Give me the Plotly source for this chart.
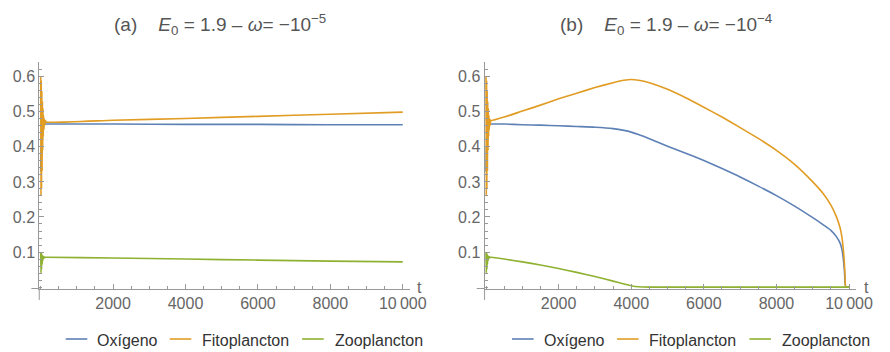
import plotly.graph_objects as go

# ---------------- data ----------------
# panel (a)
t_a = [0, 8, 16, 24, 32, 40, 48, 56, 64, 72, 80, 90, 100, 115, 130, 150,
       2000, 4000, 6000, 8000, 10000]
oxigeno_a = [0.33, 0.40, 0.34, 0.44, 0.38, 0.46, 0.42, 0.47, 0.45, 0.468, 0.46, 0.467, 0.464, 0.466, 0.465, 0.465,
             0.465, 0.464, 0.464, 0.463, 0.463]
fito_a = [0.60, 0.26, 0.59, 0.28, 0.56, 0.33, 0.53, 0.39, 0.51, 0.43, 0.49, 0.45, 0.48, 0.462, 0.475, 0.471,
          0.476, 0.481, 0.487, 0.493, 0.499]
zoo_a = [0.10, 0.04, 0.098, 0.05, 0.094, 0.065, 0.09, 0.075, 0.088, 0.08, 0.087, 0.083, 0.086, 0.084, 0.085, 0.085,
         0.083, 0.080, 0.077, 0.074, 0.072]

# panel (b)
t_b = [0, 8, 16, 24, 32, 40, 48, 56, 64, 72, 80, 90, 100, 115, 130, 150,
       500, 1000, 1500, 2000, 2500, 3000, 3500, 3800, 4000, 4200, 4500, 5000, 5500, 6000, 6500,
       7000, 7500, 8000, 8500, 9000, 9300, 9500, 9650, 9750, 9800, 9840, 9870, 9890, 9910, 10000]
oxigeno_b = [0.33, 0.40, 0.34, 0.44, 0.38, 0.46, 0.42, 0.47, 0.45, 0.468, 0.46, 0.467, 0.464, 0.466, 0.465, 0.465,
             0.465, 0.463, 0.462, 0.460, 0.458, 0.456, 0.452, 0.447, 0.442, 0.435, 0.423, 0.402, 0.382, 0.361, 0.338,
             0.314, 0.288, 0.261, 0.231, 0.198, 0.177, 0.162, 0.144, 0.126, 0.109, 0.082, 0.050, 0.015, 0.0, 0.0]
fito_b = [0.60, 0.26, 0.59, 0.28, 0.56, 0.33, 0.53, 0.39, 0.51, 0.43, 0.49, 0.45, 0.48, 0.462, 0.476, 0.475,
          0.485, 0.502, 0.519, 0.537, 0.553, 0.569, 0.583, 0.590, 0.592, 0.590, 0.583, 0.564, 0.540, 0.513, 0.485,
          0.455, 0.424, 0.390, 0.350, 0.300, 0.265, 0.234, 0.201, 0.170, 0.145, 0.110, 0.070, 0.030, 0.0, 0.0]
zoo_b = [0.10, 0.04, 0.098, 0.05, 0.094, 0.065, 0.09, 0.075, 0.088, 0.08, 0.087, 0.083, 0.086, 0.084, 0.085, 0.085,
         0.080, 0.072, 0.063, 0.053, 0.042, 0.030, 0.017, 0.009, 0.004, 0.001, 0.0, 0.0, 0.0, 0.0, 0.0,
         0.0, 0.0, 0.0, 0.0, 0.0, 0.0, 0.0, 0.0, 0.0, 0.0, 0.0, 0.0, 0.0, 0.0, 0.0]

series_names = ["Oxígeno", "Fitoplancton", "Zooplancton"]
colors = ["#5E81B5", "#E19C24", "#8FB131"]

x_tickvals = [2000, 4000, 6000, 8000, 10000]
x_ticktext = ["2000", "4000", "6000", "8000", "10\u2009000"]
y_tickvals = [0.1, 0.2, 0.3, 0.4, 0.5, 0.6]
y_ticktext = ["0.1", "0.2", "0.3", "0.4", "0.5", "0.6"]

titles = [
    "(a)\u00a0\u00a0\u00a0\u00a0<i>E</i><sub>0</sub> = 1.9 \u2013 <i>\u03c9</i>= \u221210<sup>\u22125</sup>",
    "(b)\u00a0\u00a0\u00a0\u00a0<i>E</i><sub>0</sub> = 1.9 \u2013 <i>\u03c9</i>= \u221210<sup>\u22124</sup>",
]

# ---------------- figure ----------------
W, H = 890, 352
FONT = "Liberation Sans, Arial, sans-serif"


def px(x):   # page x pixel -> paper fraction
    return x / W


def py(y):   # page y pixel (from top) -> paper fraction
    return (H - y) / H


fig = go.Figure()

panels = [
    (t_a, [oxigeno_a, fito_a, zoo_a], "x", "y"),
    (t_b, [oxigeno_b, fito_b, zoo_b], "x2", "y2"),
]
for t, ys, xa, ya in panels:
    for name, col, yv in zip(series_names, colors, ys):
        fig.add_trace(go.Scatter(
            x=t, y=yv, mode="lines", name=name, xaxis=xa, yaxis=ya, showlegend=False,
            line=dict(color=col, width=1.6, shape="spline", smoothing=0.5),
        ))

ydom = [py(288.5), py(62)]
xdom_px = [[40, 418], [494, 873]]
xrange = [-40, 10200]
yrange = [-0.004, 0.642]

axis_col = "#999999"
tick_font = dict(family=FONT, size=16, color="#666666")

for i, (xl, xr) in enumerate(xdom_px):
    sx = "" if i == 0 else "2"
    fig.update_layout(**{
        f"xaxis{sx}": dict(
            domain=[px(xl), px(xr)], range=xrange, anchor=f"y{sx}",
            showgrid=False, zeroline=False, showline=True, linecolor=axis_col, linewidth=1,
            ticks="inside", ticklen=5, tickcolor=axis_col, tickwidth=1,
            tickmode="array", tickvals=x_tickvals, ticktext=x_ticktext,
            tickfont=tick_font,
            minor=dict(ticks="inside", ticklen=3, tickcolor=axis_col, tickmode="linear",
                       tick0=0, dtick=500, showgrid=False),
        ),
        f"yaxis{sx}": dict(
            domain=ydom, range=yrange, anchor=f"x{sx}",
            showgrid=False, zeroline=False, showline=True, linecolor=axis_col, linewidth=1,
            ticks="inside", ticklen=5, tickcolor=axis_col, tickwidth=1,
            tickmode="array", tickvals=y_tickvals, ticktext=y_ticktext,
            tickfont=tick_font,
            minor=dict(ticks="inside", ticklen=3, tickcolor=axis_col, tickmode="linear",
                       tick0=0, dtick=0.02, showgrid=False),
        ),
    })
    # axis extensions (crossing axes)
    fig.add_shape(type="line", xref="paper", yref="paper",
                  x0=px(xl - 8), x1=px(xl), y0=py(288.5), y1=py(288.5),
                  line=dict(color=axis_col, width=1))
    fig.add_shape(type="line", xref="paper", yref="paper",
                  x0=px(xl), x1=px(xl), y0=py(300), y1=py(288.5),
                  line=dict(color=axis_col, width=1))
    # axis label "t"
    fig.add_annotation(xref="paper", yref="paper", x=px(xr + 10), y=py(287),
                       text="t", showarrow=False, xanchor="center", yanchor="middle",
                       font=dict(family=FONT, size=16, color="#666666"))
    # title
    fig.add_annotation(xref="paper", yref="paper", x=px([224, 679][i]), y=py(24),
                       text=titles[i], showarrow=False, xanchor="center", yanchor="middle",
                       font=dict(family=FONT, size=19, color="#555555"))

# legends (drawn below each panel)
legend_line_x = [[67, 173, 308], [522, 629, 764]]
legend_text_x = [[97, 204, 339], [553, 660, 795]]
leg_y = 340
for i in range(2):
    for k, (name, col) in enumerate(zip(series_names, colors)):
        x0 = legend_line_x[i][k]
        fig.add_shape(type="line", xref="paper", yref="paper",
                      x0=px(x0), x1=px(x0 + 22), y0=py(leg_y - 1), y1=py(leg_y - 1),
                      line=dict(color=col, width=1.6))
        fig.add_annotation(xref="paper", yref="paper", x=px(legend_text_x[i][k]), y=py(leg_y),
                           text=name, showarrow=False, xanchor="left", yanchor="middle",
                           font=dict(family=FONT, size=16, color="#333333"))

fig.update_layout(
    width=W, height=H,
    margin=dict(l=0, r=0, t=0, b=0),
    paper_bgcolor="white", plot_bgcolor="white",
    showlegend=False,
)

fig.write_html(
    "out.html",
    config={"displayModeBar": False},
    post_script="document.body.style.margin='0';document.body.style.overflow='hidden';",
)
